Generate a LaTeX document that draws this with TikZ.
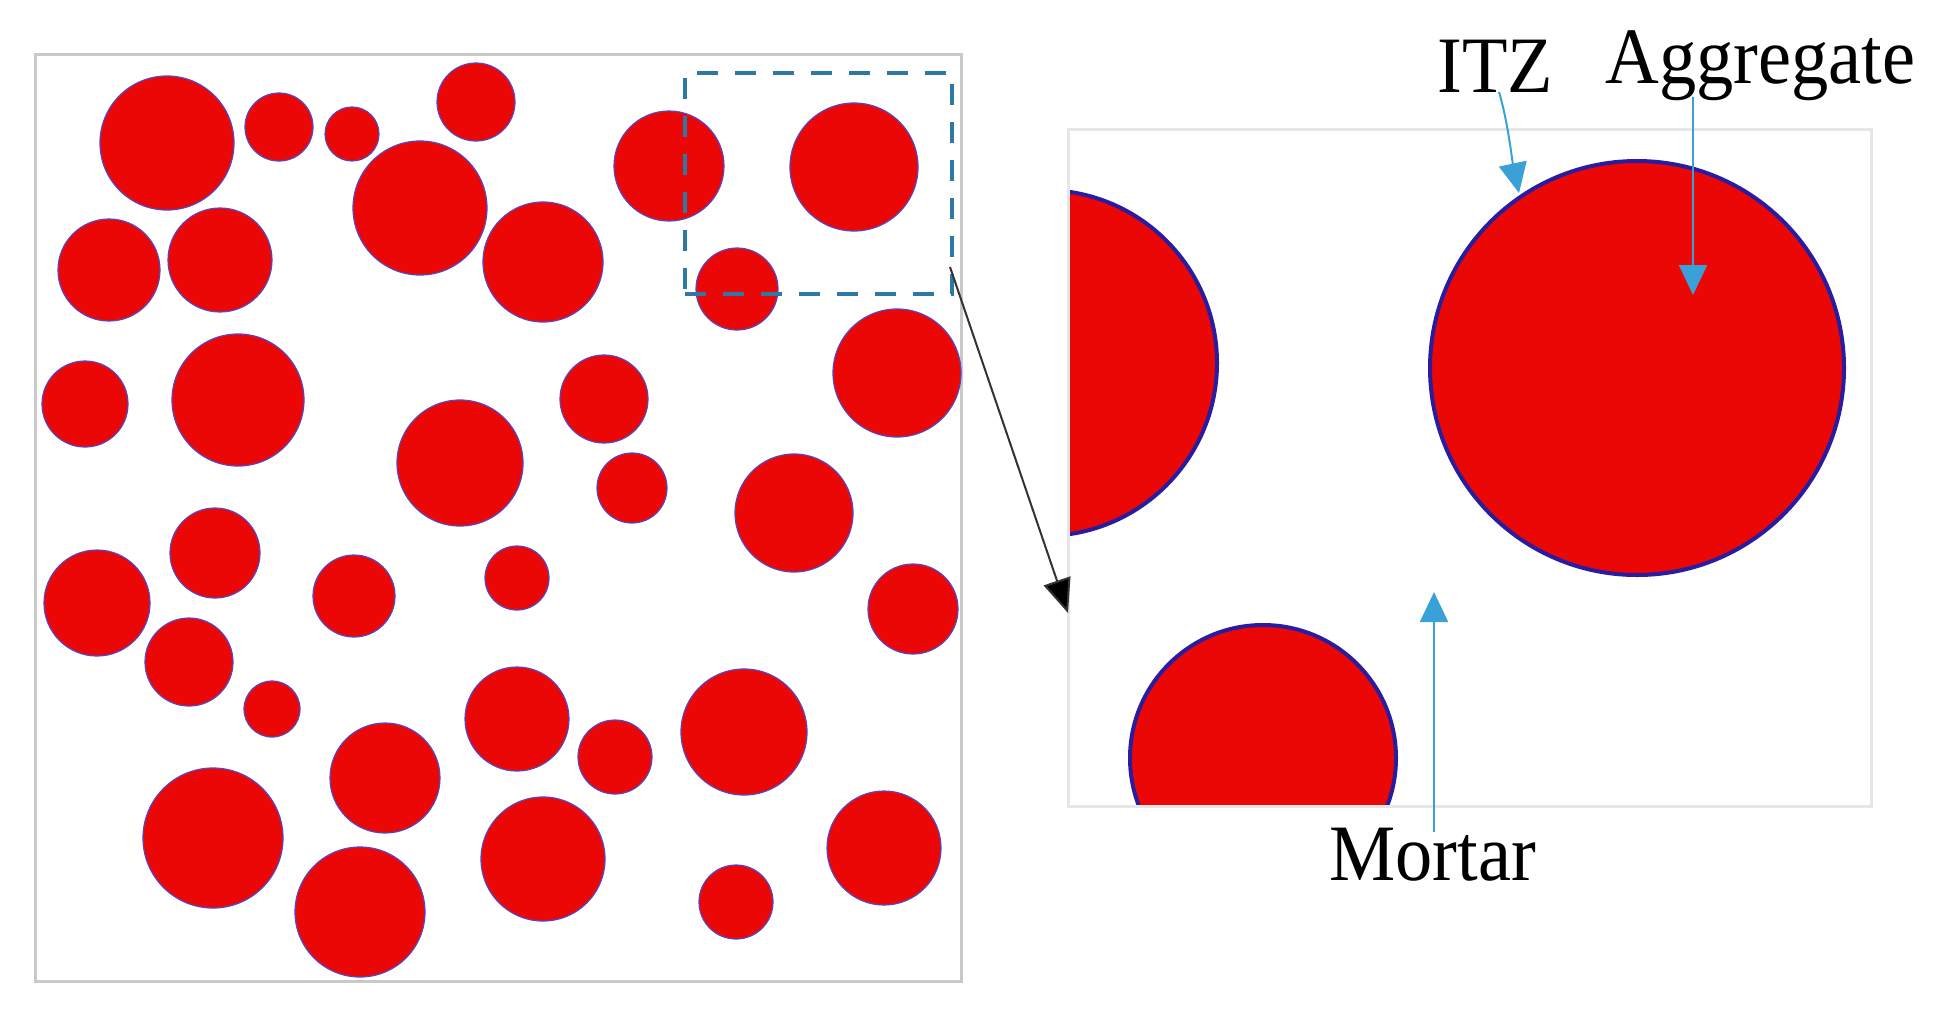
\documentclass[tikz,border=0pt]{standalone}
\usepackage{fontspec}
\setmainfont{Liberation Serif}
\newfontfamily\labfont[FakeStretch=0.93]{Liberation Serif}
\usetikzlibrary{arrows.meta}
\definecolor{aggred}{HTML}{EC0707}
\definecolor{thinrim}{HTML}{5546C4}
\definecolor{itzrim}{HTML}{2A1C9E}
\definecolor{callout}{HTML}{3AA0D8}
\definecolor{zoomblue}{HTML}{2F78A4}
\definecolor{framegrey}{HTML}{C9C9C9}
\definecolor{framelight}{HTML}{E6E6E6}
\tikzset{
  aggL/.style={fill=aggred, draw=thinrim, line width=0.6pt},
  aggR/.style={fill=aggred, draw=itzrim, line width=2pt},
  lbl/.style={inner sep=0pt, font=\labfont\fontsize{40pt}{48pt}\selectfont, text=black},
  callarrow/.style={draw=callout, line width=1pt, -{Triangle[length=15pt,width=14pt,fill=callout]}},
  zoomrect/.style={draw=zoomblue, line width=2pt, dash pattern=on 10.5pt off 8.5pt, inner sep=0pt},
  linkarrow/.style={draw=black!80, line width=1pt, -{Triangle[length=17pt,width=14pt,fill=black]}}
}
\begin{document}
\begin{tikzpicture}[x=0.5pt,y=-0.5pt]
\useasboundingbox[fill=white] (0,0) rectangle (1942,1008);

% left specimen
\draw[framegrey, line width=1.5pt] (35,54) rectangle (961,981);
\foreach \cx/\cy/\r in {
  167/143/67, 279/127/34, 352/134/27, 476/102/39, 420/208/67,
  669/166/55, 854/167/64, 109/270/51, 220/260/52, 543/262/60,
  737/289/41, 897/373/64, 85/404/43, 238/400/66, 604/399/44,
  460/463/63, 632/488/35, 794/513/59, 215/553/45, 97/603/53,
  354/596/41, 517/578/32, 913/609/45, 189/662/44, 272/709/28,
  517/719/52, 744/732/63, 615/757/37, 385/778/55, 213/838/70,
  543/859/62, 884/848/57, 360/912/65, 736/902/37}
  \path[aggL] (\cx,\cy) circle[radius=\r];

% zoom window
\node[zoomrect, minimum width=133.5pt, minimum height=110.5pt] (zb) at (818.5,183.5) {};

% magnified view
\begin{scope}
  \clip (1068,129) rectangle (1871,806);
  \path[aggR] (1044,363) circle[radius=173];
  \path[aggR] (1637,368) circle[radius=207];
  \path[aggR] (1263,758) circle[radius=133];
\end{scope}
\draw[framelight, line width=1.5pt] (1068,129) rectangle (1871,806);

% link arrow
\coordinate (zs) at (950,267);
\coordinate (zt) at (1068,613);
\draw[linkarrow] (zs) -- (zt);

% labels
\node[lbl, anchor=base west] (itz) at (1437,92) {ITZ};
\node[lbl, anchor=base west] (agg) at (1605,83) {Aggregate};
\node[lbl, anchor=base west] (mor) at (1329,880) {Mortar};

\coordinate (itzs) at (1499,92);
\coordinate (itzt) at (1519,193);
\coordinate (aggs) at (1693,97);
\coordinate (aggt) at (1693,295);
\coordinate (mors) at (1434,832);
\coordinate (mort) at (1434,592);
\draw[callarrow] (itzs) .. controls (1508,122) and (1512,160) .. (itzt);
\draw[callarrow] (aggs) -- (aggt);
\draw[callarrow] (mors) -- (mort);
\end{tikzpicture}
\end{document}
